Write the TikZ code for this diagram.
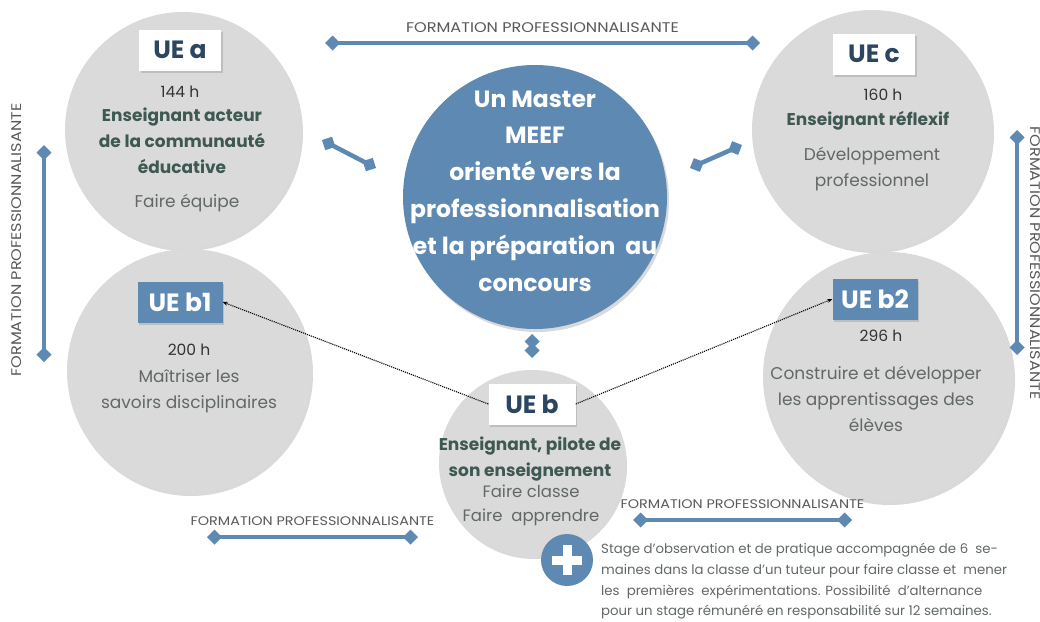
\documentclass[tikz,border=0pt]{standalone}
\usepackage{fontspec}
\setmainfont{Poppins}
\usetikzlibrary{arrows.meta,shadows}
\definecolor{bleu}{RGB}{94,137,179}
\definecolor{gris}{RGB}{218,218,218}
\definecolor{titre}{RGB}{44,70,98}
\definecolor{vert}{RGB}{62,88,82}
\definecolor{texte}{RGB}{98,104,102}
\newcommand{\formation}{\scalebox{1.15}[1]{FORMATION PROFESSIONNALISANTE}}
\begin{document}
\begin{tikzpicture}[x=1pt,y=-1pt,
    ue/.style={circle,fill=gris,minimum size=#1,inner sep=0pt,
      drop shadow={opacity=0.3,shadow xshift=2pt,shadow yshift=-3pt}},
    boite/.style={fill=white,text=titre,font=\fontsize{25}{25}\bfseries,
      minimum width=82pt,minimum height=41pt,inner sep=0pt,
      drop shadow={opacity=0.3,shadow xshift=1.5pt,shadow yshift=-2pt}},
    boitebleue/.style={boite,fill=bleu,text=white},
    heures/.style={text=black!80,font=\fontsize{15.5}{15.5}\selectfont},
    gras/.style={text=vert,align=center,font=\fontsize{17}{26}\bfseries},
    normal/.style={text=texte,align=center,font=\fontsize{17}{26}\selectfont},
    barre/.style={bleu,line width=4.5pt,{Diamond[length=15pt,width=15pt]}-{Diamond[length=15pt,width=15pt]}},
    lab/.style={text=black!65,font=\fontsize{14}{14}\selectfont,inner sep=0pt},
    petitlab/.style={lab,font=\fontsize{12.5}{12.5}\selectfont},
    pointille/.style={densely dotted,line width=1.1pt,-{Stealth[length=5pt,width=4pt]}}]
    \useasboundingbox (0,0) rectangle (1040,621);
    % 绘制圆
    \node[ue=236pt] (ca) at (183,130) {};
    \node[ue=240pt] (cc) at (872,130) {};
    \node[ue=244pt] (cb1) at (189,371) {};
    \node[ue=250pt] (cb2) at (888,377) {};
    \node[ue=186pt] (cb) at (532,463) {};
    \node[circle,fill=bleu,minimum size=264pt,inner sep=0pt,
      drop shadow={opacity=0.3,shadow xshift=2pt,shadow yshift=-3pt}] (cm) at (535,197) {};
    % 绘制标题框
    \node[boite] (ua) at (180,50) {UE a};
    \node[boite] (uc) at (874,54) {UE c};
    \node[boitebleue,minimum width=85pt] (ub1) at (180,302) {UE b1};
    \node[boitebleue,minimum width=85pt] (ub2) at (875,299) {UE b2};
    \node[boite,minimum width=87pt] (ub) at (532,404) {UE b};
    % 圆内文字
    \node[text=white,align=center,font=\fontsize{23.5}{36.8}\bfseries] (tm) at (535,191)
      {Un Master\\MEEF\\orienté vers la\\professionnalisation\\et la préparation~ au\\concours};
    \node[heures] (ha) at (180,92) {144 h};
    \node[gras] (ga) at (182,141) {Enseignant acteur\\de la communauté\\éducative};
    \node[normal] (na) at (187,203) {Faire équipe};
    \node[heures] (hc) at (883,95) {160 h};
    \node[gras] (gc) at (868,121) {Enseignant réflexif};
    \node[normal] (nc) at (872,169) {Développement\\professionnel};
    \node[heures] (hb1) at (189,350) {200 h};
    \node[normal] (nb1) at (189,391) {Maîtriser les\\savoirs disciplinaires};
    \node[heures] (hb2) at (881,336) {296 h};
    \node[normal] (nb2) at (876,399) {Construire et développer\\les apprentissages des\\élèves};
    \node[gras] (gb) at (530,459) {Enseignant, pilote de\\son enseignement};
    \node[normal,font=\fontsize{16.5}{24}\selectfont] (nb) at (531,505) {Faire classe\\Faire~ apprendre};
    % 绘制连接线
    \coordinate (h1) at (325,43);   \coordinate (h2) at (760,43);
    \coordinate (g1) at (44,145);   \coordinate (g2) at (44,362);
    \coordinate (d1) at (1017,130); \coordinate (d2) at (1017,355);
    \coordinate (b1) at (207,537);  \coordinate (b2) at (418,537);
    \coordinate (e1) at (633,520);  \coordinate (e2) at (852,520);
    \draw[barre] (h1) -- node[lab,above=8pt] (lh) {\formation} (h2);
    \draw[barre] (g1) -- (g2);
    \node[lab,rotate=90] (lg) at (17,240) {\formation};
    \draw[barre] (d1) -- (d2);
    \node[lab,rotate=-90] (ld) at (1035,263) {\formation};
    \draw[barre] (b1) -- node[petitlab,above=9pt] (lb) {\formation} (b2);
    \draw[barre] (e1) -- node[petitlab,above=9pt] (le) {\formation} (e2);
    % 短连接线
    \coordinate (a1) at (322,140); \coordinate (a2) at (376,168);
    \coordinate (c1) at (742,145); \coordinate (c2) at (690,168);
    \coordinate (m1) at (532,334); \coordinate (m2) at (532,358);
    \draw[barre] (a1) -- (a2);
    \draw[barre] (c1) -- (c2);
    \draw[barre] (m1) -- (m2);
    % 虚线箭头
    \draw[pointille] (ub.west) -- (ub1.east);
    \draw[pointille] (ub.east) -- (ub2.west);
    % 加号与说明
    \node[circle,fill=bleu,minimum size=52pt,inner sep=0pt] (plus) at (567,560) {};
    \draw[white,line width=9pt] ([xshift=-15pt]plus.center) -- ([xshift=15pt]plus.center);
    \draw[white,line width=9pt] ([yshift=-15pt]plus.center) -- ([yshift=15pt]plus.center);
    \node[anchor=north west,text=texte,align=left,inner sep=0pt,
      font=\fontsize{13.3}{20.7}\selectfont] (stage) at (601,543)
      {Stage d'observation et de pratique accompagnée de 6~ se-\\
       maines dans la classe d'un tuteur pour faire classe et~ mener\\
       les~ premières~ expérimentations. Possibilité~ d'alternance\\
       pour un stage rémunéré en responsabilité sur 12 semaines.};
\end{tikzpicture}
\end{document}
